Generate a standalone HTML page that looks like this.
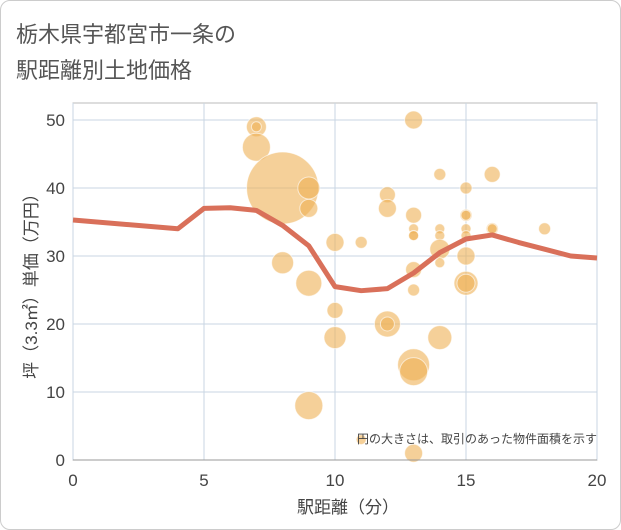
<!DOCTYPE html>
<html><head><meta charset="utf-8"><style>
body{margin:0;background:#fff;font-family:"Liberation Sans","Noto Sans CJK JP",sans-serif;}
#card{position:absolute;left:0;top:0;width:619px;height:528px;border:1px solid #ccc;border-radius:10px;background:#fff;}
</style></head><body>
<div id="card"></div>
<svg id="chart" width="621" height="530" style="position:absolute;left:0;top:0">
<text x="16" y="42" font-size="22" fill="#555">栃木県宇都宮市一条の</text>
<text x="16" y="78" font-size="22" fill="#555">駅距離別土地価格</text>
<g id="grid"></g><g id="bubbles"></g><g id="line"></g><g id="axes"></g>
<text x="597" y="443" font-size="12" fill="#444" text-anchor="end">円の大きさは、取引のあった物件面積を示す</text>
<text x="348" y="513" font-size="17" fill="#444" text-anchor="middle">駅距離（分）</text>
<text transform="translate(37,282) rotate(-90)" font-size="17" fill="#444" text-anchor="middle">坪（3.3㎡）単価（万円）</text>
</svg>
<script>
const xTicks=[0,5,10,15,20];
const yTicks=[0,10,20,30,40,50];
const bubX=[7,7,7,8,9,9,10,11,8,9,10,10,9,11,12,12,12,12,13,13,13,13,13,13,13,13,13,13,14,14,14,14,14,14,15,15,15,15,15,15,15,15,16,16,16,18];
const bubY=[49,49,46,40,40,37,32,32,29,26,22,18,8,3,39,37,20,20,50,36,34,33,33,28,25,14,13,1,42,34,33,31,29,18,40,36,36,34,33,30,26,26,42,34,34,34];
const bubR=[10,5,14,36,11,9,9,6,11,13,8,11,14,5,8,9,13,7,9,8,5,5,5,8,6,16,14,9,6,5,5,10,5,12,6,6,5,5,5,9,12,9,8,6,5,6];
const lineX=[0,4,5,6,7,8,9,10,11,12,13,14,15,16,17,18,19,20];
const lineY=[35.3,34,37,37.1,36.7,34.5,31.5,25.5,24.9,25.2,27.5,30.5,32.5,33.1,32,31,30,29.7];
const L=73,R=597,T=103,B=460;
const sx=v=>L+(R-L)*v/20, sy=v=>B-(B-120)*v/50;
const NS="http://www.w3.org/2000/svg";
function mk(t,a,p){const e=document.createElementNS(NS,t);for(const k in a)e.setAttribute(k,a[k]);p.appendChild(e);return e;}
const grid=document.getElementById('grid'),axes=document.getElementById('axes');
mk('rect',{x:L,y:T,width:R-L,height:B-T,fill:'none',stroke:'#bbb'},grid);
xTicks.forEach(v=>{const l=mk('line',{x1:sx(v),x2:sx(v),y1:T,y2:B,stroke:'#c9d6e3'},grid);


const t=mk('text',{x:sx(v),y:B+26,'font-size':17,fill:'#444','text-anchor':'middle'},axes);t.textContent=v;

});
yTicks.forEach(v=>{const l=mk('line',{x1:L,x2:R,y1:sy(v),y2:sy(v),stroke:'#c9d6e3'},grid);


const t=mk('text',{x:L-8,y:sy(v)+6,'font-size':17,fill:'#444','text-anchor':'end'},axes);t.textContent=v;

});
mk('line',{x1:L,x2:R,y1:B,y2:B,stroke:'#999'},axes);
const bg=document.getElementById('bubbles');
bubX.forEach((x,i)=>{const c=mk('circle',{cx:sx(x),cy:sy(bubY[i]),r:bubR[i],fill:'rgba(238,176,85,0.6)',stroke:'#fff','stroke-opacity':0.6},bg);

});
const p=mk('polyline',{points:lineX.map((x,i)=>sx(x)+','+sy(lineY[i])).join(' '),fill:'none',stroke:'#d9705a','stroke-width':5,'stroke-linejoin':'round'},document.getElementById('line'));


</script>
</body></html>
